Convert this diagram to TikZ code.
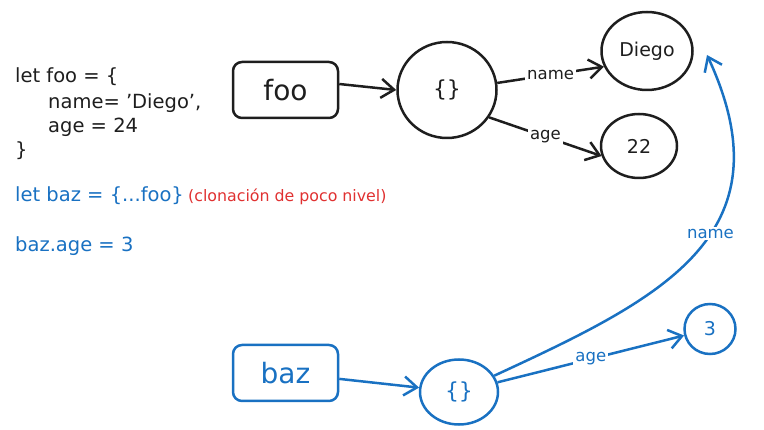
\documentclass[tikz,border=0pt]{standalone}
\usepackage{fontspec}
\setmainfont{DejaVu Sans}
\usepackage{xcolor}
\usetikzlibrary{shapes.geometric,arrows.meta}
\definecolor{ink}{HTML}{1E1E1E}
\definecolor{blueink}{HTML}{1971C2}
\definecolor{redink}{HTML}{E03131}

\begin{document}
\begin{tikzpicture}[x=1pt,y=-1pt,color=ink,
    box/.style={draw,rounded corners=9pt,line width=2.5pt,minimum width=105pt,minimum height=56pt,font=\fontsize{28}{28}\selectfont},
    obj/.style={draw,ellipse,line width=2.5pt,inner sep=0pt,font=\fontsize{22}{22}\selectfont},
    val/.style={draw,ellipse,line width=2.5pt,inner sep=0pt,font=\fontsize{19}{19}\selectfont},
    arr/.style={line width=2.5pt,-{Straight Barb[length=13pt,width=19pt]}},
    lbl/.style={fill=white,inner sep=2pt,font=\fontsize{16.5}{16.5}\selectfont},
    code/.style={anchor=base west,inner sep=0pt,font=\fontsize{19.5}{19.5}\selectfont}]
    \useasboundingbox (0,0) rectangle (764,430);

    % Code
    \node[code] (line1) at (15,83) {let foo = \{};
    \node[code] (line2) at (48,109) {name= 'Diego',};
    \node[code] (line3) at (48,133) {age = 24};
    \node[code] (line4) at (15,157) {\}};
    \node[code,blueink] (clone) at (15,202) {let baz = \{...foo\}};
    \node[code,redink,font=\fontsize{15.8}{15.8}\selectfont] (note) at (188,202) {(clonación de poco nivel)};
    \node[code,blueink] (setage) at (15,252) {baz.age = 3};

    % foo
    \node[box] (foo) at (285.5,90) {foo};
    \node[obj,minimum width=99pt,minimum height=96pt] (fooobj) at (447,90) {\{\}};
    \node[val,minimum width=91pt,minimum height=78pt] (diego) at (647,51) {Diego};
    \node[val,minimum width=76pt,minimum height=64pt] (age22) at (639,146) {22};
    \draw[arr] ([yshift=6pt]foo.east) -- (fooobj.west);
    \draw[arr] (fooobj.8) -- node[lbl] {name} (diego.200);
    \draw[arr] (fooobj.-33) -- node[lbl] {age} (age22.195);

    % baz
    \begin{scope}[color=blueink]
    \node[box] (baz) at (285.5,373) {baz};
    \node[obj,minimum width=78pt,minimum height=65pt] (bazobj) at (459,392) {\{\}};
    \node[val,minimum width=51pt,minimum height=50pt] (three) at (710,329) {3};
    \coordinate (namehead) at (707,55);
    \draw[arr] (baz) -- (bazobj);
    \draw[arr] (bazobj) -- node[lbl] {age} (three);
    \draw[arr] (bazobj) .. controls (660,299) and (791,236) .. node[lbl,pos=0.57] {name} (namehead);
    \end{scope}
\end{tikzpicture}
\end{document}
